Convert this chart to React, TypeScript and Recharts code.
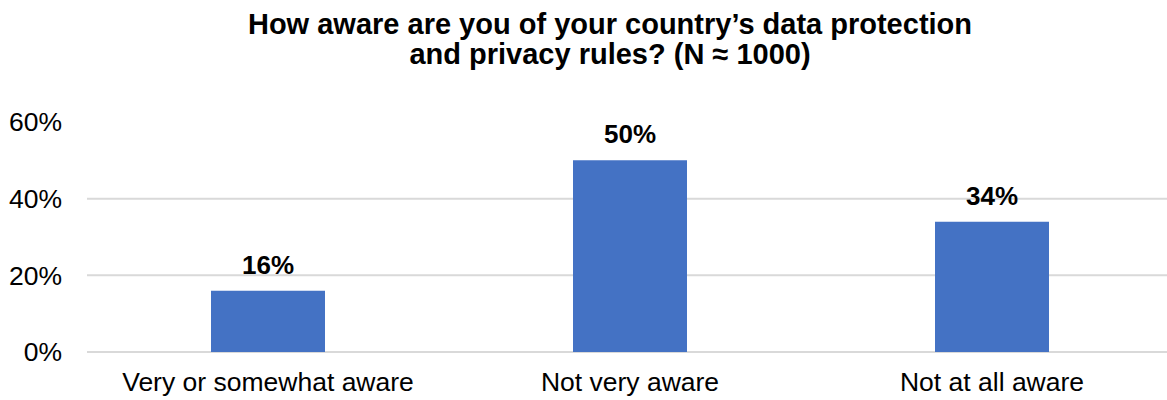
import React from 'react';
import { BarChart, Bar, XAxis, YAxis, CartesianGrid, LabelList } from 'recharts';

const categories = ['Very or somewhat aware', 'Not very aware', 'Not at all aware'];
const values = [16, 50, 34];
const yTicks = [0, 20, 40, 60];
const gridValues = [0, 20, 40];
const titleLines = ["How aware are you of your country\u2019s data protection", 'and privacy rules? (N \u2248 1000)'];

const data = categories.map((name, i) => ({ name, value: values[i] }));

const FONT = '"Liberation Sans", Arial, sans-serif';

export default function App() {
  return (
    <div style={{ position: 'absolute', left: 0, top: 0, width: 1167, height: 400, overflow: 'hidden', background: '#fff', fontFamily: FONT }}>
      <div style={{ position: 'absolute', left: 0, top: 9, width: 1220, textAlign: 'center', fontWeight: 'bold', fontSize: 29, lineHeight: '30px', color: '#000', zIndex: 2 }}>
        {titleLines.map((l) => (
          <div key={l}>{l}</div>
        ))}
      </div>
      <BarChart width={1180} height={400} data={data} margin={{ top: 122, right: 7, bottom: 0, left: 0 }}>
        <CartesianGrid vertical={false} horizontalValues={gridValues} stroke="#d9d9d9" strokeWidth={2} />
        <XAxis
          dataKey="name"
          height={48}
          tickLine={false}
          axisLine={false}
          tickSize={0}
          tickMargin={20}
          interval={0}
          tick={{ fontSize: 26.5, fill: '#000', fontFamily: FONT }}
        />
        <YAxis
          width={87}
          domain={[0, 60]}
          ticks={yTicks}
          tickFormatter={(v) => `${v}%`}
          tickLine={false}
          axisLine={false}
          tickSize={0}
          tickMargin={25}
          tick={{ fontSize: 26.5, fill: '#000', fontFamily: FONT }}
        />
        <Bar dataKey="value" fill="#4472C4" barSize={114} isAnimationActive={false}>
          <LabelList
            dataKey="value"
            position="top"
            offset={17}
            formatter={(v: any) => `${v}%`}
            style={{ fontSize: 26, fontWeight: 'bold', fill: '#000', fontFamily: FONT }}
          />
        </Bar>
      </BarChart>
    </div>
  );
}
